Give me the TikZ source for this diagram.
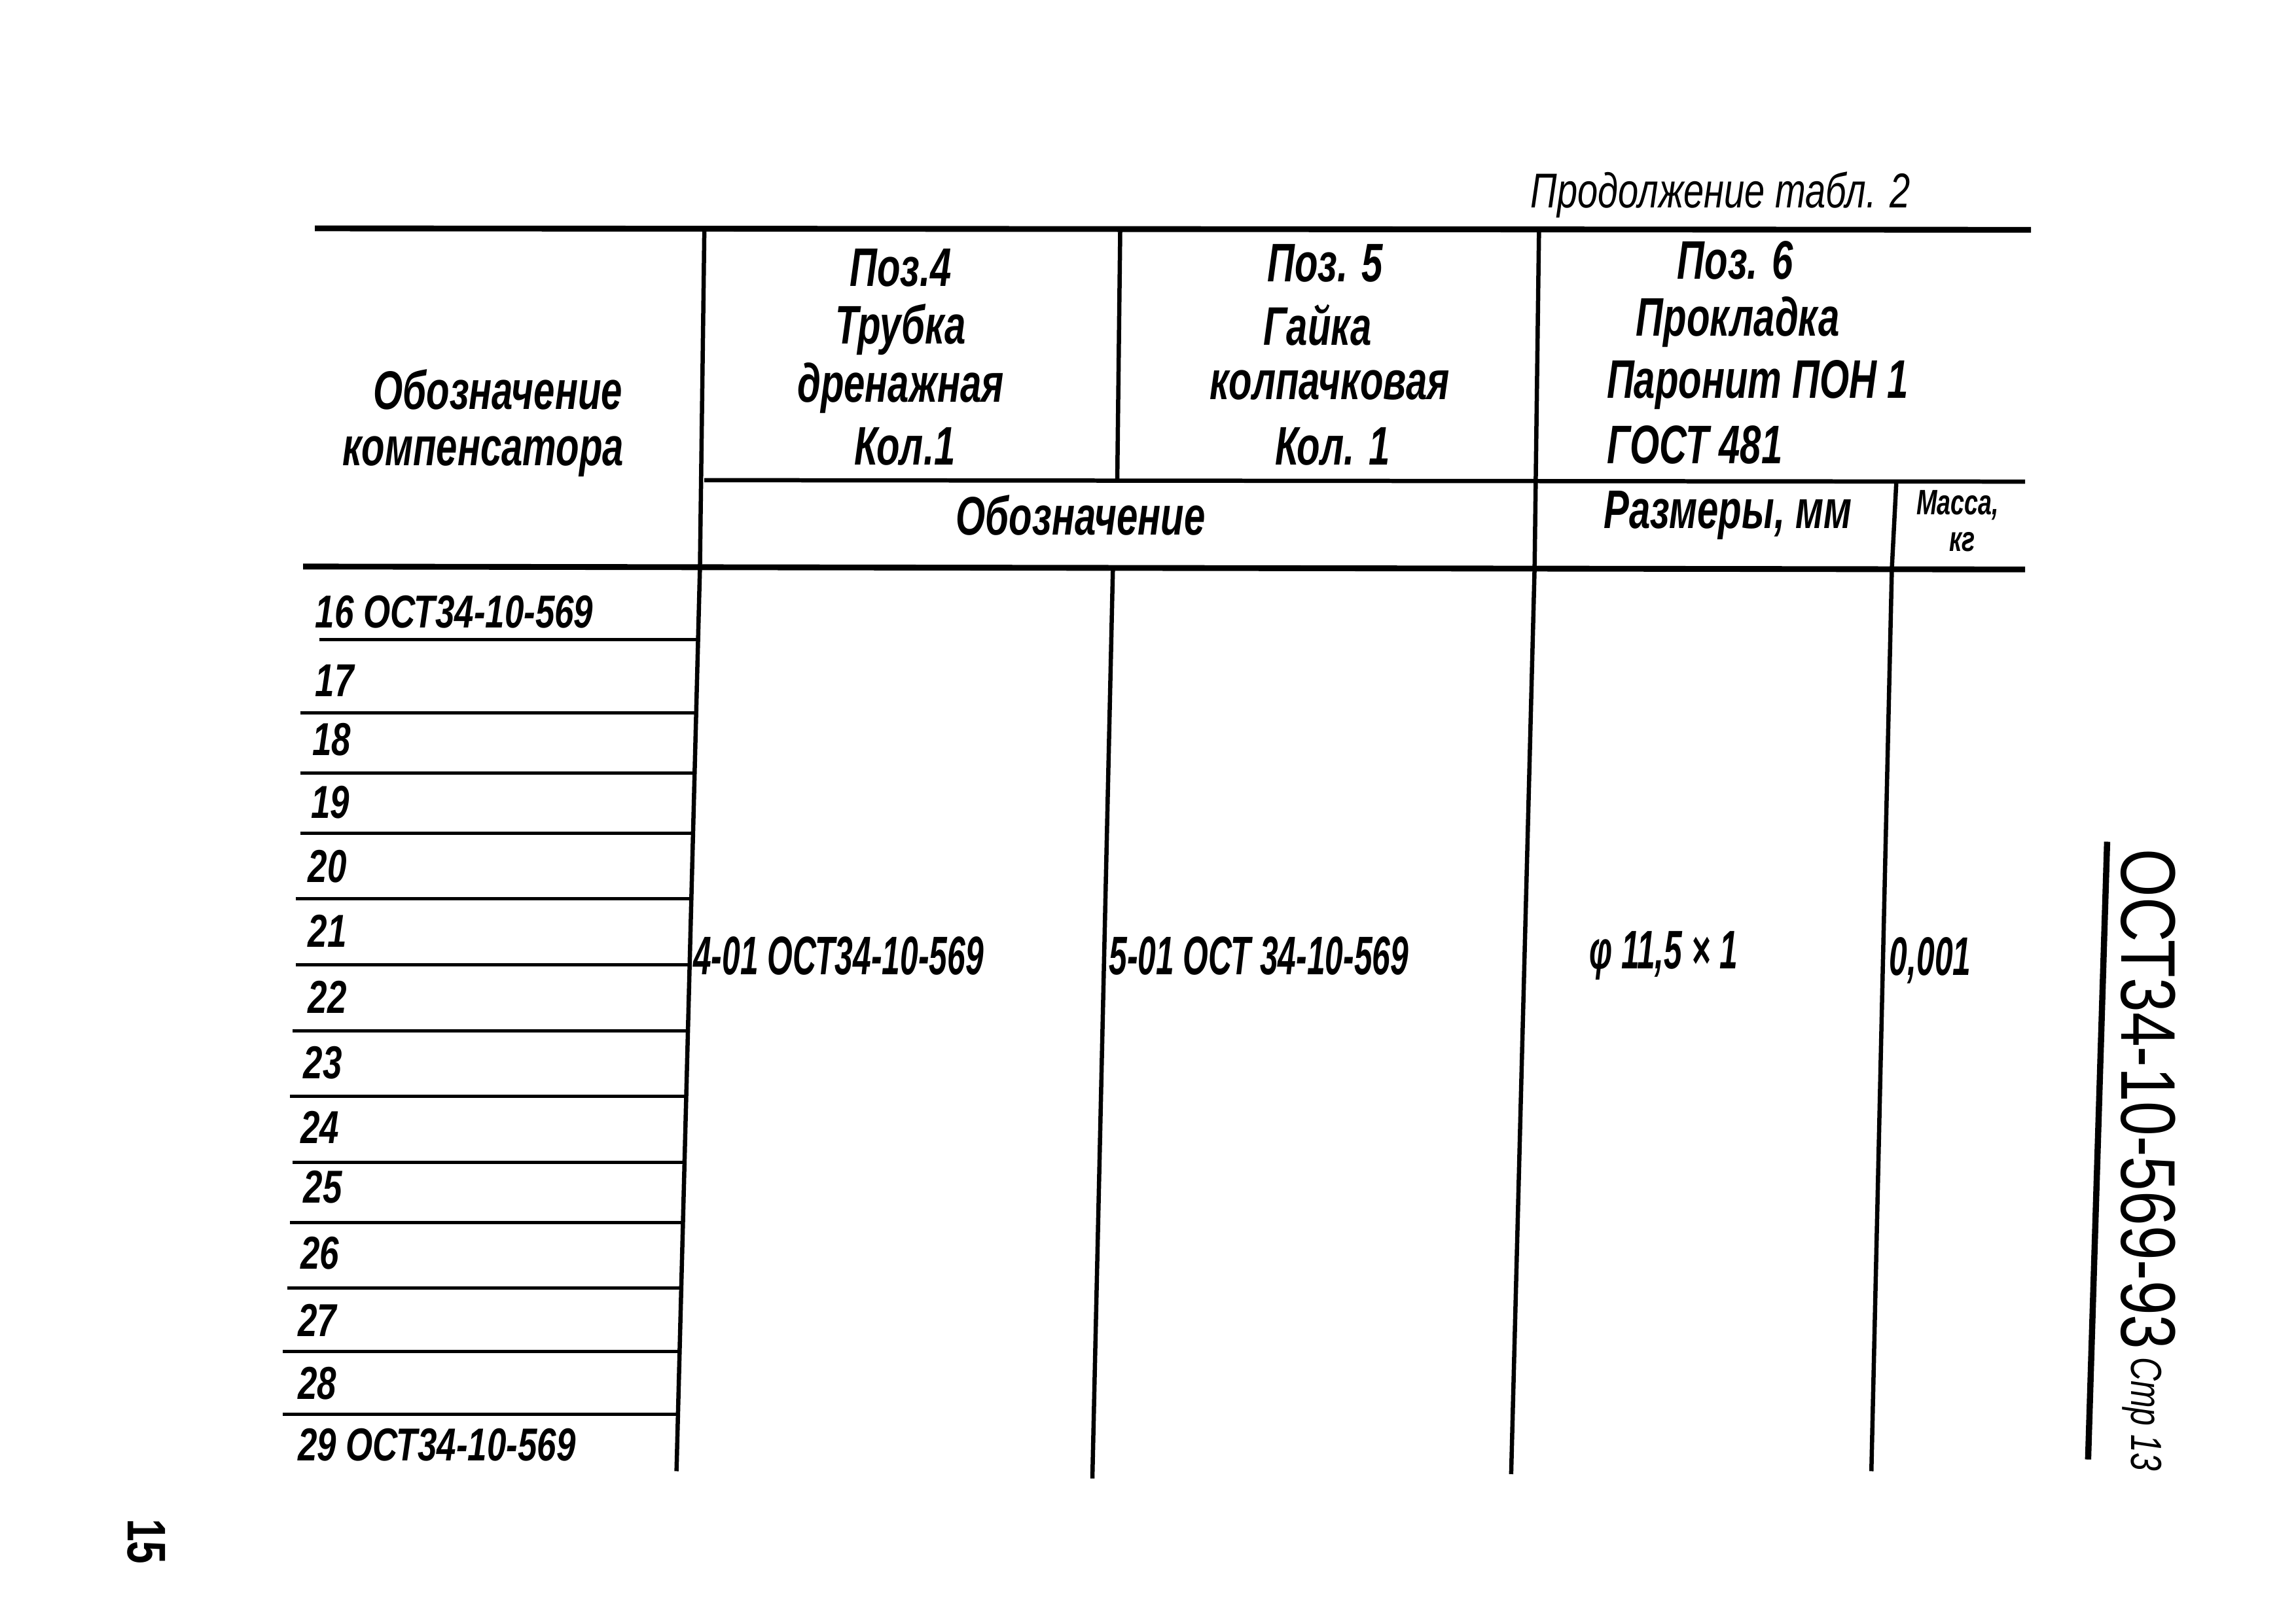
\documentclass[tikz,border=0pt]{standalone}
\usepackage{fontspec}
\setmainfont{Liberation Sans}
\newfontfamily\gost{Liberation Sans}[FakeStretch=0.75]
\newfontfamily\gostb{Liberation Sans}[FakeStretch=0.7]
\newfontfamily\gostn{Liberation Sans}[FakeStretch=0.6]
\newfontfamily\gostup{Liberation Sans}[FakeStretch=0.8]
\begin{document}
\begin{tikzpicture}[x=0.18941mm,y=-0.18941mm,
  thk/.style={line width=0.75mm},
  med/.style={line width=0.55mm},
  thn/.style={line width=0.42mm},
  hd/.style={font=\gostb\itshape\bfseries\fontsize{20}{22}\selectfont, inner sep=0pt},
  hds/.style={font=\gostb\itshape\bfseries\fontsize{13}{15}\selectfont, inner sep=0pt},
  rowlab/.style={font=\gost\itshape\bfseries\fontsize{17}{19}\selectfont, inner sep=0pt, anchor=west},
  body/.style={font=\gostn\itshape\bfseries\fontsize{20}{22}\selectfont, inner sep=0pt, anchor=west}]
\useasboundingbox (0,0) rectangle (1568,1109);
\fill[white] (0,0) rectangle (1568,1109);

% horizontal rules
\draw[thk] (215,156) -- (1387,157);
\draw[med] (481,328) -- (1383,329);
\draw[thk] (207,387) -- (1383,389);

% vertical rules
\draw[med] (481,158) -- (478,388) -- (462,1005);
\draw[med] (765,158) -- (763,328);
\draw[med] (760,389) -- (746,1010);
\draw[med] (1051,158) -- (1048,388) -- (1032,1007);
\draw[med] (1295,330) -- (1292,388) -- (1278,1005);

% row separators in first column
\foreach \yy/\xl in {437/218, 487/205, 528/205, 569/205, 614/202, 659/202, 704/200, 749/198, 794/200, 835/198, 880/196, 923/193, 966/193} {
  \pgfmathsetmacro{\xr}{477-(\yy-388)*0.0243}
  \draw[thn] (\xl,\yy) -- (\xr,\yy);
}

% title
\node[inner sep=0pt, font=\gost\itshape\fontsize{18}{20}\selectfont] (title) at (1175,133) {Продолжение табл. 2};

% header column 1
\node[hd] (h1a) at (340,266) {Обозначение};
\node[hd] (h1b) at (330,312) {компенсатора};

% header column 2
\node[hd] (h2a) at (615,183) {Поз.4};
\node[hd] (h2b) at (615,225) {Трубка};
\node[hd] (h2c) at (615,265) {дренажная};
\node[hd] (h2d) at (618,305) {Кол.1};

% header column 3
\node[hd] (h3a) at (905,180) {Поз. 5};
\node[hd] (h3b) at (900,222) {Гайка};
\node[hd] (h3c) at (908,263) {колпачковая};
\node[hd] (h3d) at (910,305) {Кол. 1};

% header column 4
\node[hd] (h4a) at (1185,178) {Поз. 6};
\node[hd, anchor=west] (h4b) at (1117,220) {Прокладка};
\node[hd, anchor=west] (h4c) at (1097,263) {Паронит ПОН 1};
\node[hd, anchor=west] (h4d) at (1097,304) {ГОСТ 481};

% second header row
\node[hd] (h5) at (738,352) {Обозначение};
\node[hd] (h6) at (1180,352) {Размеры, мм};
\node[hds] (h7a) at (1337,345) {Масса,};
\node[hds] (h7b) at (1340,370) {кг};

% row labels
\node[rowlab] (r16) at (215,418) {16 ОСТ34-10-569};
\node[rowlab] (r17) at (215,465) {17};
\node[rowlab] (r18) at (213,505) {18};
\node[rowlab] (r19) at (212,548) {19};
\node[rowlab] (r20) at (210,592) {20};
\node[rowlab] (r21) at (210,636) {21};
\node[rowlab] (r22) at (210,681) {22};
\node[rowlab] (r23) at (207,726) {23};
\node[rowlab] (r24) at (205,770) {24};
\node[rowlab] (r25) at (207,811) {25};
\node[rowlab] (r26) at (205,856) {26};
\node[rowlab] (r27) at (203,902) {27};
\node[rowlab] (r28) at (203,945) {28};
\node[rowlab] (r29) at (203,987) {29 ОСТ34-10-569};

% body values
\node[body] (v1) at (473,653) {4-01 ОСТ34-10-569};
\node[body] (v2) at (757,653) {5-01 ОСТ 34-10-569};
\node[body] (v3) at (1085,653) {φ 11,5 × 1};
\node[body] (v4) at (1290,656) {0,001};

% side stamp
\draw[line width=0.8mm] (1439,575) -- (1426,997);
\node[inner sep=0pt, rotate=-90, font=\gostup\fontsize{28.5}{31}\selectfont] (doc) at (1467,751) {ОСТ34-10-569-93};
\node[inner sep=0pt, rotate=-90, font=\gost\itshape\fontsize{16}{18}\selectfont] (pg) at (1463,966) {Стр 13};

% page number
\node[inner sep=0pt, rotate=-90, font=\gost\bfseries\fontsize{20}{22}\selectfont] (pnum) at (100,1053) {15};
\end{tikzpicture}
\end{document}
